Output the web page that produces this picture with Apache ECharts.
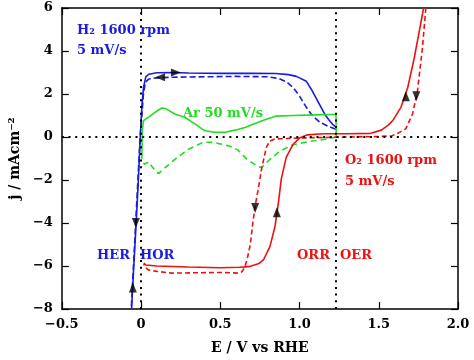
<!DOCTYPE html>
<html>
<head>
<meta charset="utf-8">
<script src="https://cdn.jsdelivr.net/npm/echarts@6/dist/echarts.min.js"></script>
<style>
html,body{margin:0;padding:0;background:#fff;}
#chart{width:474px;height:360px;}
</style>
</head>
<body>
<div id="chart"></div>
<script>
// ---- data (E / V vs RHE, j / mA cm^-2) ----
var h2Anodic = [[-0.06,-8],[-0.046,-6],[-0.031,-4],[-0.017,-2],[-0.005,0],[0.005,1.4],[0.015,2.3],[0.03,2.8],[0.048,2.92],[0.1,2.99],[0.2,3.0],[0.3,2.98],[0.5,2.96],[0.7,2.96],[0.85,2.95],[0.93,2.9],[0.98,2.82],[1.043,2.59],[1.08,2.15],[1.125,1.53],[1.16,1.05],[1.187,0.78],[1.21,0.58],[1.229,0.47]];
var h2Cathodic = [[1.229,0.36],[1.18,0.5],[1.125,0.7],[1.08,1.0],[1.043,1.38],[1.0,1.9],[0.96,2.3],[0.92,2.55],[0.87,2.72],[0.8,2.8],[0.6,2.82],[0.4,2.8],[0.2,2.78],[0.1,2.75],[0.05,2.7],[0.027,2.55],[0.015,2.0],[0.005,1.0],[-0.006,0],[-0.02,-2],[-0.034,-4],[-0.048,-6],[-0.062,-8]];
var arAnodic = [[0.005,-1.0],[0.008,0.3],[0.015,0.75],[0.03,0.85],[0.048,0.92],[0.089,1.15],[0.13,1.35],[0.155,1.32],[0.213,1.07],[0.275,0.92],[0.337,0.62],[0.4,0.3],[0.46,0.22],[0.53,0.22],[0.6,0.33],[0.66,0.45],[0.71,0.6],[0.79,0.83],[0.85,0.97],[0.958,1.0],[1.1,1.03],[1.206,1.05],[1.23,1.05],[1.232,0.0]];
var arCathodic = [[1.232,0.0],[1.227,-0.06],[1.165,-0.1],[1.06,-0.21],[0.958,-0.36],[0.875,-0.66],[0.813,-1.04],[0.761,-1.42],[0.74,-1.38],[0.668,-1.04],[0.61,-0.6],[0.565,-0.44],[0.46,-0.25],[0.4,-0.24],[0.379,-0.29],[0.296,-0.58],[0.213,-1.04],[0.141,-1.49],[0.11,-1.7],[0.089,-1.57],[0.048,-1.16],[0.02,-1.27],[0.005,-1.0]];
var o2Anodic = [[0.017,-5.87],[0.03,-5.95],[0.1,-6.0],[0.3,-6.05],[0.5,-6.08],[0.62,-6.06],[0.68,-6.03],[0.74,-5.9],[0.772,-5.72],[0.813,-5.1],[0.844,-4.2],[0.865,-3.15],[0.885,-1.95],[0.916,-0.95],[0.958,-0.35],[1.0,-0.05],[1.05,0.1],[1.15,0.15],[1.3,0.15],[1.45,0.17],[1.516,0.32],[1.56,0.55],[1.589,0.77],[1.64,1.38],[1.682,2.28],[1.723,3.64],[1.754,4.85],[1.783,6.0]];
var o2Cathodic = [[1.797,6.0],[1.775,4.1],[1.744,2.13],[1.713,1.07],[1.671,0.39],[1.62,0.17],[1.58,0.05],[1.5,0.02],[1.3,0.0],[1.1,-0.03],[0.95,-0.06],[0.88,-0.08],[0.84,-0.1],[0.81,-0.2],[0.79,-0.5],[0.775,-1.0],[0.76,-1.5],[0.74,-2.4],[0.72,-3.2],[0.705,-4.0],[0.69,-4.97],[0.672,-5.6],[0.655,-6.05],[0.635,-6.28],[0.61,-6.33],[0.5,-6.3],[0.3,-6.32],[0.193,-6.33],[0.1,-6.25],[0.046,-6.18],[0.025,-6.05],[0.017,-5.9]];
// sweep-direction arrows: [E, j, direction]
var arrows = [[0.22,3.0,'right'],[0.12,2.78,'left'],[-0.033,-4.0,'down'],[-0.052,-7.0,'up'],[0.72,-3.3,'down'],[0.857,-3.5,'up'],[1.671,1.9,'up'],[1.737,1.9,'down']];
var refLinesX = [0, 1.23];
var refLinesY = [0];
var xTicks = [-0.5, 0, 0.5, 1.0, 1.5, 2.0];
var yTicks = [-8, -6, -4, -2, 0, 2, 4, 6];

var BLUE = '#1a1ae0', GREEN = '#22dd22', RED = '#ee1111';
var FONT = 'DejaVu Serif';

var chart = echarts.init(document.getElementById('chart'), null, {renderer:'canvas'});
var rotMap = {up:0, down:180, left:90, right:-90};

function fmtX(v){ if (v === 0) return '0'; var s = Math.abs(v).toFixed(1); return (v<0?'\u2212':'') + s; }
function fmtY(v){ return (v<0?'\u2212':'') + Math.abs(v); }

var axisCommon = {
  axisLine:{show:true, onZero:false, lineStyle:{color:'#000', width:1.5}},
  axisTick:{show:true, inside:true, length:7, lineStyle:{color:'#000', width:1.2}},
  splitLine:{show:false}
};

function txt(text, x, y, color){
  return {type:'text', left:x, top:y - 8, style:{text:text, fill:color, font:'bold 13px "' + FONT + '"'}, z:100};
}

var option = {
  animation:false,
  backgroundColor:'#fff',
  grid:{left:55, right:16, top:8, bottom:43, containLabel:false},
  xAxis:[
    Object.assign({type:'value', min:xTicks[0], max:xTicks[xTicks.length-1], interval:0.5, position:'bottom',
      name:'E / V vs RHE', nameLocation:'middle', nameGap:32,
      nameTextStyle:{color:'#000', fontFamily:FONT, fontSize:14, fontWeight:'bold'},
      axisLabel:{color:'#000', fontFamily:FONT, fontSize:13, fontWeight:'bold', margin:9, formatter:fmtX}}, axisCommon),
    Object.assign({type:'value', min:xTicks[0], max:xTicks[xTicks.length-1], interval:0.5, position:'top',
      axisLabel:{show:false}}, axisCommon)
  ],
  yAxis:[
    Object.assign({type:'value', min:yTicks[0], max:yTicks[yTicks.length-1], interval:2, position:'left',
      name:'j / mAcm\u207B\u00B2', nameLocation:'middle', nameGap:37, nameRotate:90,
      nameTextStyle:{color:'#000', fontFamily:FONT, fontSize:14, fontWeight:'bold'},
      axisLabel:{color:'#000', fontFamily:FONT, fontSize:13, fontWeight:'bold', margin:9, formatter:fmtY}}, axisCommon),
    Object.assign({type:'value', min:yTicks[0], max:yTicks[yTicks.length-1], interval:2, position:'right',
      axisLabel:{show:false}}, axisCommon)
  ],
  series:[
    {type:'line', data:[], symbol:'none', silent:true,
      markLine:{silent:true, symbol:'none', label:{show:false},
        lineStyle:{color:'#000', width:2, type:[2,4.7]},
        data: refLinesX.map(function(v){return {xAxis:v};}).concat(refLinesY.map(function(v){return {yAxis:v};}))}},
    {type:'line', data:h2Anodic, symbol:'none', lineStyle:{color:BLUE, width:1.6}, clip:true},
    {type:'line', data:h2Cathodic, symbol:'none', lineStyle:{color:BLUE, width:1.6, type:[6,3]}, clip:true},
    {type:'line', data:arAnodic, symbol:'none', lineStyle:{color:GREEN, width:1.6}, clip:true},
    {type:'line', data:arCathodic, symbol:'none', lineStyle:{color:GREEN, width:1.6, type:[6,4]}, clip:true},
    {type:'line', data:o2Anodic, symbol:'none', lineStyle:{color:RED, width:1.6}, clip:true},
    {type:'line', data:o2Cathodic, symbol:'none', lineStyle:{color:RED, width:1.6, type:[5,3]}, clip:true},
    {type:'scatter', data:arrows.map(function(a){return {value:[a[0],a[1]], symbolRotate:rotMap[a[2]]};}),
      symbol:'triangle', symbolSize:[8,10], itemStyle:{color:'#000'}, z:10, silent:true}
  ],
  graphic:[
    txt('H\u2082 1600 rpm', 77, 32, BLUE),
    txt('5 mV/s', 77, 52, BLUE),
    txt('Ar 50 mV/s', 183, 115, GREEN),
    txt('O\u2082 1600 rpm', 345, 162, RED),
    txt('5 mV/s', 345, 183, RED),
    txt('HER', 97, 257, BLUE),
    txt('HOR', 140, 257, BLUE),
    txt('ORR', 297, 257, RED),
    txt('OER', 340, 257, RED)
  ]
};
chart.setOption(option);
</script>
</body>
</html>
